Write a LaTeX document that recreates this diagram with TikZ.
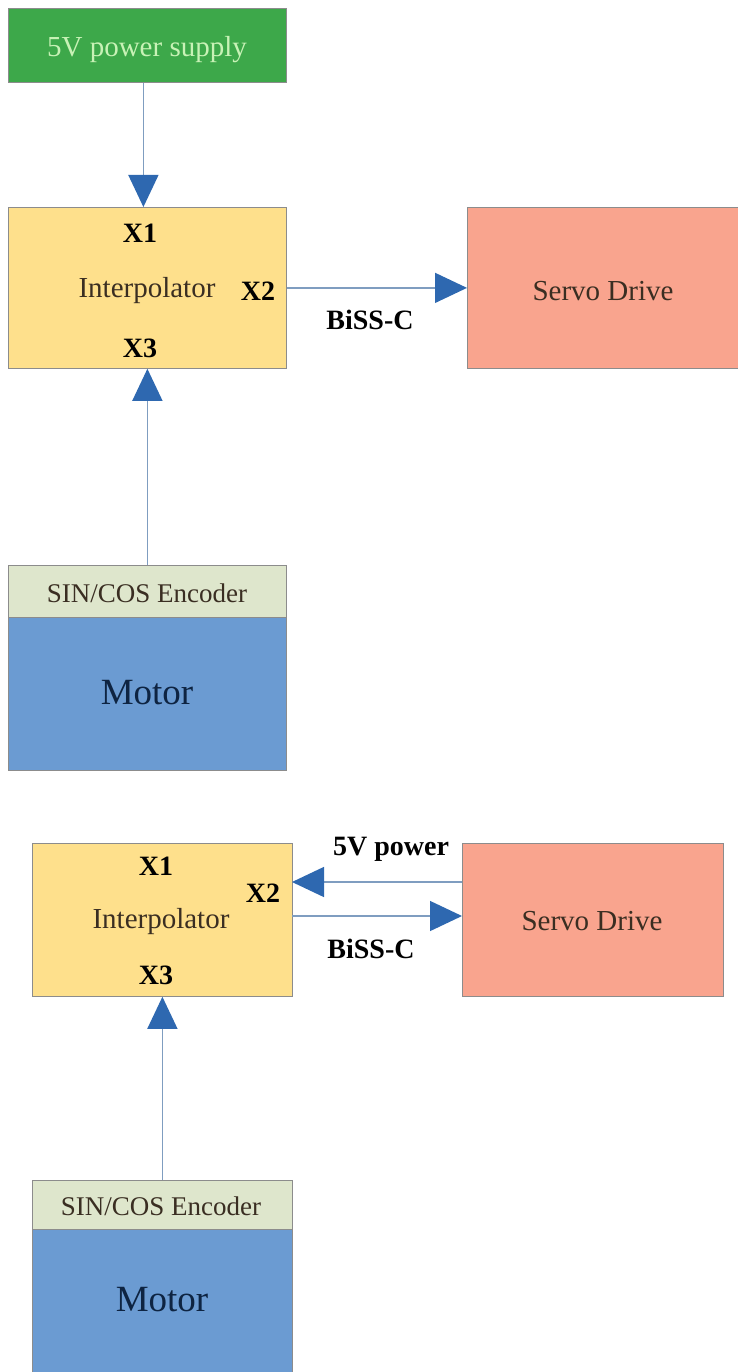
\documentclass[tikz,border=0pt]{standalone}
\usepackage{fontspec}
\setmainfont{Liberation Serif}
\usetikzlibrary{arrows.meta,calc}
\definecolor{psgreen}{HTML}{3DA84A}
\definecolor{pstext}{HTML}{C8F2B6}
\definecolor{ipyellow}{HTML}{FEE08C}
\definecolor{sdsalmon}{HTML}{F9A48E}
\definecolor{encgreen}{HTML}{DEE6CC}
\definecolor{motblue}{HTML}{6B9BD2}
\definecolor{mottext}{HTML}{0E2442}
\definecolor{bordergray}{HTML}{8C8C8C}
\definecolor{linecol}{HTML}{7F9DC0}
\definecolor{headcol}{HTML}{2E68B0}
\definecolor{darktext}{HTML}{3A2E22}
\begin{document}
\begin{tikzpicture}[x=1pt,y=-1pt,
  box/.style={draw=bordergray,line width=0.8pt,rectangle,inner sep=0pt,anchor=north west},
  txt/.style={inner sep=0pt,font=\fontsize{29}{34}\selectfont,text=darktext},
  lbl/.style={inner sep=0pt,font=\fontsize{28}{33}\selectfont\bfseries,text=black},
  enctxt/.style={inner sep=0pt,font=\fontsize{27}{32}\selectfont,text=darktext},
  mottxt/.style={inner sep=0pt,font=\fontsize{37}{42}\selectfont,text=mottext},
  arr/.style={draw=linecol,line width=1.4pt,-{Triangle[length=32pt,width=30pt,color=headcol]}}
]
\useasboundingbox (0,0) rectangle (737,1372);
\fill[white] (0,0) rectangle (737,1372);

% ---------- Top diagram ----------
\node[box,fill=psgreen,minimum width=278pt,minimum height=74pt] (ps) at (8,8) {};
\node[txt,text=pstext] (pst) at (147,50) {5V power supply};

\node[box,fill=ipyellow,minimum width=278pt,minimum height=161pt] (i1) at (8,207) {};
\node[lbl] (i1x1) at (140,233) {X1};
\node[txt] (i1t) at (147,291) {Interpolator};
\node[lbl] (i1x2) at (258,291) {X2};
\node[lbl] (i1x3) at (140,348) {X3};

\node[box,fill=sdsalmon,minimum width=271pt,minimum height=161pt] (sd1) at (467,207) {};
\node[txt,text=darktext] (sd1t) at (603,291) {Servo Drive};

\node[box,fill=encgreen,minimum width=278pt,minimum height=52pt] (e1) at (8,565) {};
\node[enctxt] (e1t) at (147,593) {SIN/COS Encoder};
\node[box,fill=motblue,minimum width=278pt,minimum height=153pt] (m1) at (8,617) {};
\node[mottxt] (m1t) at (147,693) {Motor};

\draw[arr] ($(ps.south)+(-4,0)$) -- ($(i1.north)+(-4,0)$);
\draw[arr] (i1.east) -- (sd1.west);
\node[lbl] (b1) at (370,320) {BiSS-C};
\draw[arr] (e1.north) -- (i1.south);

% ---------- Bottom diagram ----------
\node[box,fill=ipyellow,minimum width=260pt,minimum height=153pt] (i2) at (32,843) {};
\node[lbl] (i2x1) at (156,866) {X1};
\node[lbl] (i2x2) at (263,893) {X2};
\node[txt] (i2t) at (161,922) {Interpolator};
\node[lbl] (i2x3) at (156,975) {X3};

\node[box,fill=sdsalmon,minimum width=261pt,minimum height=153pt] (sd2) at (462,843) {};
\node[txt,text=darktext] (sd2t) at (592,921) {Servo Drive};

\coordinate (p5a) at (462,882);
\coordinate (p5b) at (292,882);
\coordinate (bsa) at (292,916);
\coordinate (bsb) at (462,916);
\draw[arr] (p5a) -- (p5b);
\node[lbl] (p5l) at (391,849) {5V power};
\draw[arr] (bsa) -- (bsb);
\node[lbl] (b2) at (371,949) {BiSS-C};

\node[box,fill=encgreen,minimum width=260pt,minimum height=49pt] (e2) at (32,1180) {};
\node[enctxt] (e2t) at (161,1206) {SIN/COS Encoder};
\node[box,fill=motblue,minimum width=260pt,minimum height=150pt] (m2) at (32,1229) {};
\node[mottxt] (m2t) at (162,1300) {Motor};

\draw[arr] (e2.north) -- (i2.south);
\end{tikzpicture}
\end{document}
